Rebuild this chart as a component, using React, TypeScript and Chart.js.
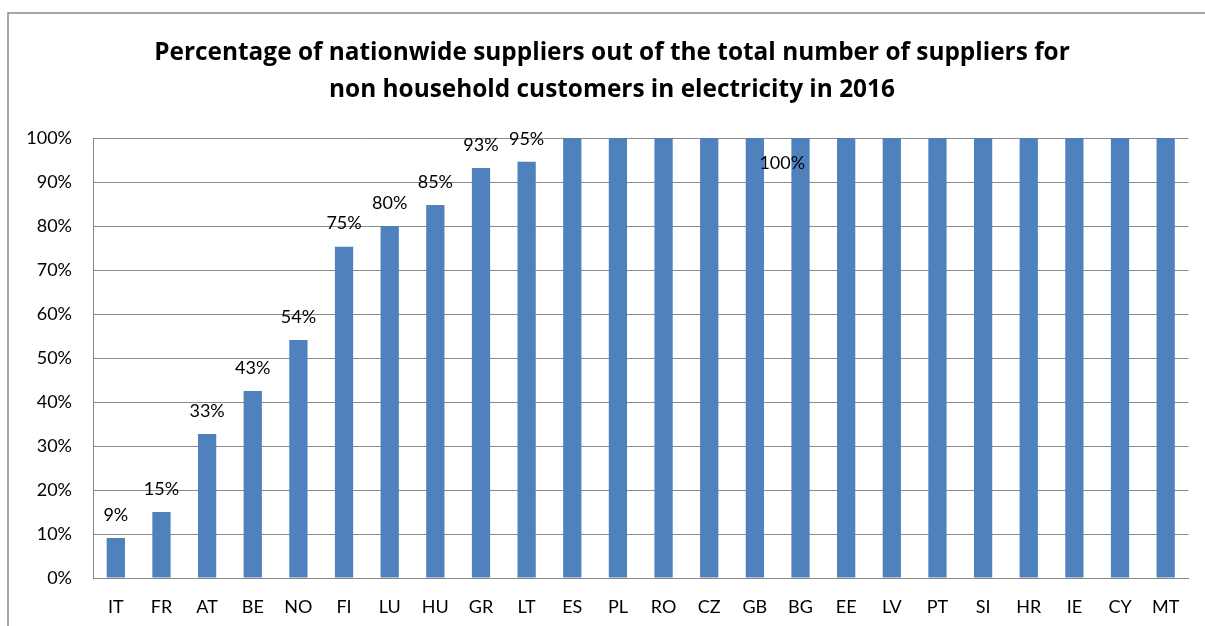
import React, { useEffect, useRef } from "react";
import { Chart, registerables } from "chart.js";

Chart.register(...registerables);

const countries = ["IT","FR","AT","BE","NO","FI","LU","HU","GR","LT","ES","PL","RO","CZ","GB","BG","EE","LV","PT","SI","HR","IE","CY","MT"];
const shares = [9.1, 15, 32.7, 42.5, 54.1, 75.3, 80, 84.8, 93.2, 94.6, 100, 100, 100, 100, 100, 100, 100, 100, 100, 100, 100, 100, 100, 100];
const barLabels = ["9%","15%","33%","43%","54%","75%","80%","85%","93%","95%"];
const sharedLabel = "100%";
const titleLines = [
  "Percentage of nationwide suppliers out of the total number of suppliers for",
  "non household customers in electricity in 2016",
];
const yTicks = [0, 10, 20, 30, 40, 50, 60, 70, 80, 90, 100];

const FONT = "Lato, 'Open Sans', sans-serif";
const TITLE_FONT = "'Open Sans', Lato, sans-serif";
const GRID = "#8a8a8a";

export default function App() {
  const ref = useRef<HTMLCanvasElement | null>(null);
  useEffect(() => {
    if (!ref.current) return;
    const labelPlugin = {
      id: "labelsAndFrame",
      beforeDraw(chart: any) {
        const ctx = chart.ctx;
        ctx.save();
        ctx.strokeStyle = GRID;
        ctx.lineWidth = 1.5;
        ctx.strokeRect(8, 13, 1400, 800);
        ctx.font = `bold 24.4px ${TITLE_FONT}`;
        ctx.fillStyle = "#000";
        ctx.textAlign = "center";
        ctx.textBaseline = "middle";
        titleLines.forEach((t, i) => ctx.fillText(t, 612, 53 + i * 37));
        ctx.restore();
      },
      afterDatasetsDraw(chart: any) {
        const ctx = chart.ctx;
        const meta = chart.getDatasetMeta(0);
        ctx.save();
        ctx.font = `18px ${FONT}`;
        ctx.fillStyle = "#000";
        ctx.textAlign = "center";
        ctx.textBaseline = "middle";
        barLabels.forEach((t, i) => {
          const el = meta.data[i];
          ctx.fillText(t, el.x, el.y - 23);
        });
        const xs = chart.scales.x;
        const ys = chart.scales.y;
        const gx = xs.getPixelForValue(14);
        const bx = xs.getPixelForValue(15);
        ctx.fillText(sharedLabel, gx + 0.6 * (bx - gx), ys.getPixelForValue(94.3));
        ctx.restore();
      },
    };
    const chart = new Chart(ref.current, {
      type: "bar",
      data: {
        labels: countries,
        datasets: [
          {
            data: shares,
            backgroundColor: "#4f81bd",
            borderWidth: 0,
            barPercentage: 0.4,
            categoryPercentage: 1,
          },
        ],
      },
      options: {
        responsive: false,
        animation: false,
        layout: { padding: { left: 0, right: 16.5, top: 138, bottom: 0 } },
        plugins: {
          legend: { display: false },
          tooltip: { enabled: false },
          title: { display: false },
        },
        scales: {
          x: {
            grid: { display: false, drawTicks: false },
            border: { display: true, color: GRID, width: 1 },
            ticks: { color: "#000", font: { family: FONT, size: 18 }, padding: 18, maxRotation: 0, autoSkip: false },
            afterFit(scale: any) { scale.height = 48; },
          },
          y: {
            min: 0,
            max: 100,
            afterBuildTicks(scale: any) { scale.ticks = yTicks.map((v) => ({ value: v })); },
            grid: { color: GRID, lineWidth: 1, drawTicks: false },
            border: { display: true, color: GRID, width: 1 },
            ticks: {
              color: "#000",
              font: { family: FONT, size: 18 },
              padding: 21,
              callback: (v: any) => `${v}%`,
            },
            afterFit(scale: any) { scale.width = 93; },
          },
        },
      },
      plugins: [labelPlugin],
    });
    return () => chart.destroy();
  }, []);
  return (
    <div style={{ position: "fixed", left: 0, top: 0, width: 1205, height: 626, background: "#fff" }}>
      <canvas ref={ref} width={1205} height={626} style={{ display: "block" }} />
    </div>
  );
}
